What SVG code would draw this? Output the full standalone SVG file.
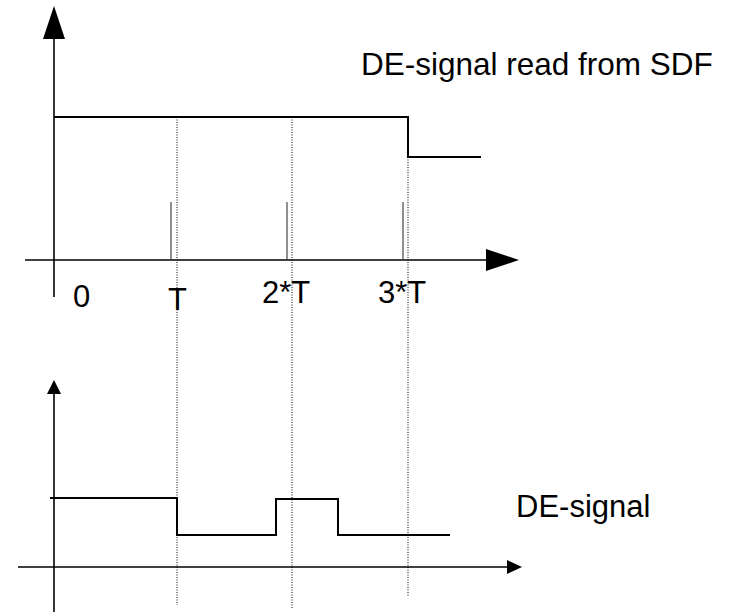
<svg xmlns="http://www.w3.org/2000/svg" width="734" height="612" viewBox="0 0 734 612">
<style>
.ax{stroke:#000;stroke-width:1.6;fill:none}
.sig{stroke:#000;stroke-width:2;fill:none}
.tick{stroke:#444;stroke-width:1.2;fill:none}
.dot{stroke:#000;stroke-width:1;stroke-dasharray:1 1.5;fill:none}
.ah{fill:#000;stroke:none}
text{font-family:"Liberation Sans",Arial,sans-serif;font-size:31px;fill:#000}
</style>
<rect width="734" height="612" fill="#fff"/>
<g id="top-chart">
  <line class="ax" x1="54" y1="38" x2="54" y2="297"/>
  <polygon class="ah" points="54,6 43,39 65,39"/>
  <line class="ax" x1="25" y1="260" x2="488" y2="260"/>
  <polygon class="ah" points="519,260 486,249 486,271"/>
  <polyline class="sig" points="54,117 408,117 408,157 481,157"/>
  <line class="tick" x1="171" y1="202" x2="171" y2="260"/>
  <line class="tick" x1="287" y1="202" x2="287" y2="260"/>
  <line class="tick" x1="403" y1="202" x2="403" y2="260"/>
  <text x="73" y="307">0</text>
  <text x="168" y="310">T</text>
  <text x="262" y="303">2*T</text>
  <text x="378" y="303">3*T</text>
  <text x="361" y="75" style="font-size:31.5px">DE-signal read from SDF</text>
</g>
<g id="bottom-chart">
  <line class="ax" x1="54" y1="392" x2="54" y2="612"/>
  <polygon class="ah" points="54,380 47,394 61,394"/>
  <line class="ax" x1="18" y1="567" x2="509" y2="567"/>
  <polygon class="ah" points="522,567 507,560 507,574"/>
  <polyline class="sig" points="50,498 177,498 177,535 276,535 276,499 338,499 338,535 450,535"/>
  <text x="516" y="517">DE-signal</text>
</g>
<g id="connectors">
  <line class="dot" x1="177" y1="117" x2="177" y2="605"/>
  <line class="dot" x1="292" y1="117" x2="292" y2="608"/>
  <line class="dot" x1="408" y1="117" x2="408" y2="597"/>
</g>
</svg>
